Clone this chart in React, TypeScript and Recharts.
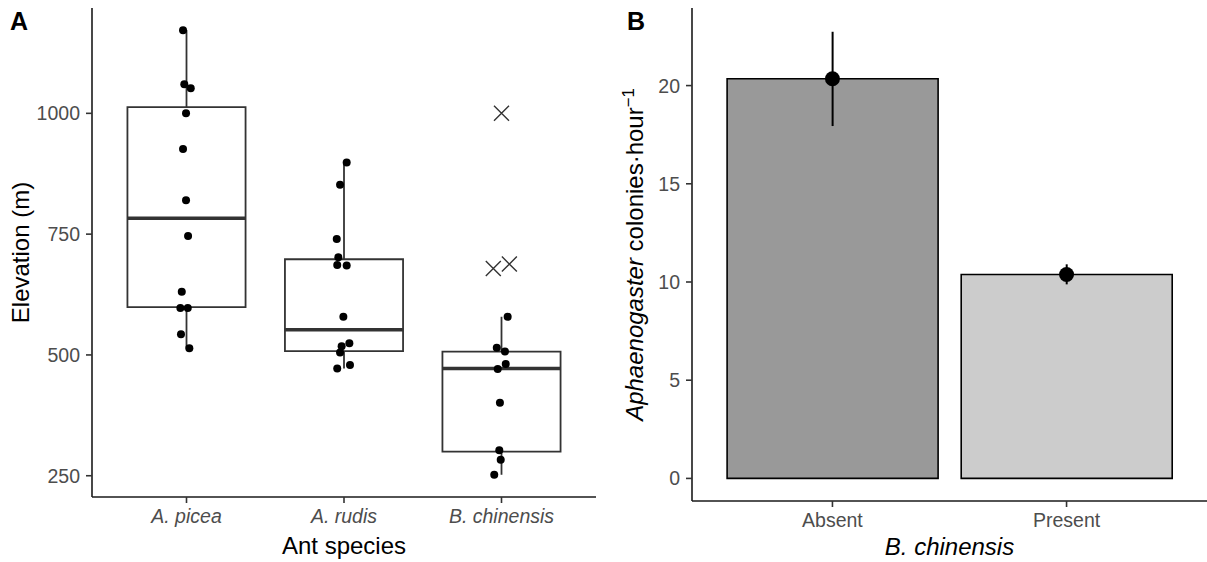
import React from 'react';
import {
  ComposedChart,
  Scatter,
  XAxis,
  YAxis,
  ReferenceArea,
  ReferenceLine,
  Bar,
  Cell,
  ErrorBar,
  Label,
} from 'recharts';

// ---------- Panel A data ----------
const species = ['A. picea', 'A. rudis', 'B. chinensis'];
const whiskerLow = [514, 472, 252];
const q1 = [599, 508, 300];
const median = [783, 552, 472];
const q3 = [1013, 698, 507];
const whiskerHigh = [1172, 898, 579];

const piceaElev = [1172, 1060, 1052, 1000, 926, 820, 746, 631, 597, 597, 543, 514];
const piceaJitter = [-0.022, -0.014, 0.027, -0.003, -0.022, -0.003, 0.01, -0.03, -0.039, 0.008, -0.035, 0.018];
const rudisElev = [898, 852, 740, 702, 686, 685, 579, 524, 518, 505, 479, 472];
const rudisJitter = [0.017, -0.025, -0.046, -0.036, -0.043, 0.017, -0.004, 0.034, -0.015, -0.025, 0.038, -0.043];
const chinElev = [579, 515, 507, 481, 471, 401, 303, 283, 252];
const chinJitter = [0.039, -0.03, 0.022, 0.027, -0.024, -0.01, -0.014, -0.005, -0.046];
const outlierElev = [1000, 679, 688];
const outlierJitter = [0, -0.052, 0.05];

const elevTicks = [250, 500, 750, 1000];

// ---------- Panel B data ----------
const presence = ['Absent', 'Present'];
const colonyMean = [20.35, 10.38];
const colonyLower = [17.94, 9.88];
const colonyUpper = [22.74, 10.9];
const barFills = ['#999999', '#cccccc'];
const colonyTicks = [0, 5, 10, 15, 20];

const FONT = '"Liberation Sans", Arial, Helvetica, sans-serif';
const TICK_SIZE = 19.5;
const TITLE_SIZE = 24;

const dots = [
  ...piceaElev.map((y, i) => ({ x: 1 + piceaJitter[i], y })),
  ...rudisElev.map((y, i) => ({ x: 2 + rudisJitter[i], y })),
  ...chinElev.map((y, i) => ({ x: 3 + chinJitter[i], y })),
];
const outliers = outlierElev.map((y, i) => ({ x: 3 + outlierJitter[i], y }));

const barData = presence.map((name, i) => ({
  name,
  mean: colonyMean[i],
  err: [colonyMean[i] - colonyLower[i], colonyUpper[i] - colonyMean[i]],
}));

const Dot = (p: any) => <circle cx={p.cx} cy={p.cy} r={4} fill="#000" />;
const BigDot = (p: any) => <circle cx={p.cx} cy={p.cy} r={7.5} fill="#000" />;
const Cross = (p: any) => {
  const s = 7.5;
  return (
    <path
      d={`M${p.cx - s},${p.cy - s}L${p.cx + s},${p.cy + s}M${p.cx - s},${p.cy + s}L${p.cx + s},${p.cy - s}`}
      stroke="#333"
      strokeWidth={1.4}
      fill="none"
    />
  );
};

const xTitle = (text: string, cx: number, baseline: number) => (props: any) => {
  const vb = props.viewBox || {};
  const x = vb.width ? vb.x + vb.width / 2 : cx;
  return (
    <text x={x} y={baseline} textAnchor="middle" fontFamily={FONT} fontSize={TITLE_SIZE} fill="#000" fontStyle={text.startsWith('B.') ? 'italic' : 'normal'}>
      {text}
    </text>
  );
};

const yTitleA = (props: any) => {
  const vb = props.viewBox || {};
  const cy = vb.height ? vb.y + vb.height / 2 : 252;
  const x = 29;
  return (
    <g>
      <text x={x} y={cy} transform={`rotate(-90, ${x}, ${cy})`} textAnchor="middle" fontFamily={FONT} fontSize={TITLE_SIZE} fill="#000">
        Elevation (m)
      </text>
      <text x={10} y={30} fontFamily={FONT} fontSize={25} fontWeight="bold" fill="#000">A</text>
    </g>
  );
};

const yTitleB = (props: any) => {
  const vb = props.viewBox || {};
  const cy = vb.height ? vb.y + vb.height / 2 : 254;
  const x = 43;
  return (
    <g>
      <text x={x} y={cy} transform={`rotate(-90, ${x}, ${cy})`} textAnchor="middle" fontFamily={FONT} fontSize={TITLE_SIZE} fill="#000">
        <tspan fontStyle="italic">Aphaenogaster</tspan>
        <tspan> colonies·hour</tspan>
        <tspan dy="-0.55em" fontSize="0.7em">−1</tspan>
      </text>
      <text x={27} y={30} fontFamily={FONT} fontSize={25} fontWeight="bold" fill="#000">B</text>
    </g>
  );
};

export default function App() {
  return (
    <div style={{ position: 'absolute', left: 0, top: 0, width: 1207, height: 562, background: '#fff' }}>
      <div style={{ position: 'absolute', left: 0, top: 0 }}>
        <ComposedChart width={600} height={562} margin={{ top: 8, right: 4, bottom: 35, left: 0 }}>
          <XAxis
            dataKey="x"
            type="number"
            domain={[0.4, 3.6]}
            ticks={[1, 2, 3]}
            tickFormatter={(v: number) => species[Math.round(v) - 1]}
            allowDataOverflow
            height={30}
            tickSize={6}
            tickMargin={6}
            axisLine={{ stroke: '#1a1a1a', strokeWidth: 1.6 }}
            tickLine={{ stroke: '#333', strokeWidth: 1.6 }}
            tick={{ fill: '#4d4d4d', fontSize: TICK_SIZE, fontStyle: 'italic', fontFamily: FONT }}
          >
            <Label content={xTitle('Ant species', 344, 554)} />
          </XAxis>
          <YAxis
            dataKey="y"
            type="number"
            domain={[206, 1218]}
            ticks={elevTicks}
            allowDataOverflow
            width={92}
            tickSize={6}
            tickMargin={6}
            axisLine={{ stroke: '#1a1a1a', strokeWidth: 1.6 }}
            tickLine={{ stroke: '#333', strokeWidth: 1.6 }}
            tick={{ fill: '#4d4d4d', fontSize: TICK_SIZE, fontFamily: FONT }}
          >
            <Label content={yTitleA} />
          </YAxis>
          {species.map((s, i) => (
            <ReferenceLine
              key={'wh' + s}
              segment={[{ x: i + 1, y: q3[i] }, { x: i + 1, y: whiskerHigh[i] }]}
              stroke="#333"
              strokeWidth={1.8}
            />
          ))}
          {species.map((s, i) => (
            <ReferenceLine
              key={'wl' + s}
              segment={[{ x: i + 1, y: q1[i] }, { x: i + 1, y: whiskerLow[i] }]}
              stroke="#333"
              strokeWidth={1.8}
            />
          ))}
          {species.map((s, i) => (
            <ReferenceArea
              key={'box' + s}
              x1={i + 1 - 0.375}
              x2={i + 1 + 0.375}
              y1={q1[i]}
              y2={q3[i]}
              fill="none"
              fillOpacity={0}
              stroke="#333"
              strokeWidth={1.8}
            />
          ))}
          {species.map((s, i) => (
            <ReferenceLine
              key={'med' + s}
              segment={[{ x: i + 1 - 0.375, y: median[i] }, { x: i + 1 + 0.375, y: median[i] }]}
              stroke="#333"
              strokeWidth={3.6}
            />
          ))}
          <Scatter data={outliers} dataKey="y" shape={Cross} isAnimationActive={false} />
          <Scatter data={dots} dataKey="y" shape={Dot} isAnimationActive={false} />
        </ComposedChart>
      </div>
      <div style={{ position: 'absolute', left: 600, top: 0 }}>
        <ComposedChart width={607} height={562} data={barData} barCategoryGap="5%" margin={{ top: 8, right: 0, bottom: 31, left: 0 }}>
          <XAxis
            dataKey="name"
            type="category"
            padding={{ left: 23.4, right: 23.4 }}
            height={30}
            tickSize={6}
            tickMargin={6}
            axisLine={{ stroke: '#1a1a1a', strokeWidth: 1.6 }}
            tickLine={{ stroke: '#333', strokeWidth: 1.6 }}
            tick={{ fill: '#4d4d4d', fontSize: TICK_SIZE, fontFamily: FONT }}
          >
            <Label content={xTitle('B. chinensis', 349.5, 555)} />
          </XAxis>
          <YAxis
            type="number"
            domain={[-1.15, 23.95]}
            ticks={colonyTicks}
            allowDataOverflow
            width={92}
            tickSize={6}
            tickMargin={6}
            axisLine={{ stroke: '#1a1a1a', strokeWidth: 1.6 }}
            tickLine={{ stroke: '#333', strokeWidth: 1.6 }}
            tick={{ fill: '#4d4d4d', fontSize: TICK_SIZE, fontFamily: FONT }}
          >
            <Label content={yTitleB} />
          </YAxis>
          <Bar dataKey="mean" stroke="#000" strokeWidth={1.6} isAnimationActive={false}>
            {barData.map((d, i) => (
              <Cell key={d.name} fill={barFills[i]} />
            ))}
            <ErrorBar dataKey="err" width={0} stroke="#000" strokeWidth={2} direction="y" />
          </Bar>
          <Scatter dataKey="mean" shape={BigDot} isAnimationActive={false} />
        </ComposedChart>
      </div>
    </div>
  );
}
